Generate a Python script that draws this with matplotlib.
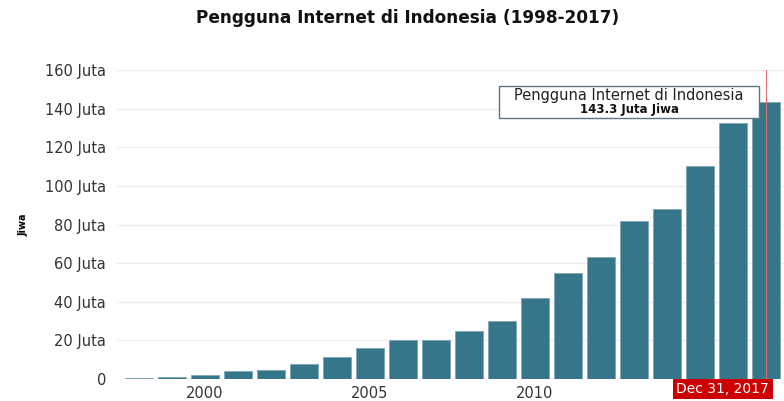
import matplotlib
matplotlib.use("Agg")
import matplotlib.pyplot as plt
from matplotlib.offsetbox import TextArea, VPacker, AnnotationBbox, DrawingArea

# Pengguna internet Indonesia (juta jiwa)
years = [1998, 1999, 2000, 2001, 2002, 2003, 2004, 2005, 2006, 2007,
         2008, 2009, 2010, 2011, 2012, 2013, 2014, 2015, 2016, 2017]
users = [0.5, 1, 2, 4.2, 4.5, 8, 11.2, 16, 20, 20,
         25, 30, 42, 55, 63, 82, 88.1, 110.2, 132.7, 143.3]
y_ticks = [0, 20, 40, 60, 80, 100, 120, 140, 160]
y_labels = ["0"] + [f"{v} Juta" for v in y_ticks[1:]]
x_ticks = [2000, 2005, 2010, 2015]

bar_color = "#35768a"
text_color = "#333333"

fig = plt.figure(figsize=(7.84, 4.01), dpi=100)
ax = fig.add_axes([117 / 784, 22 / 401, 667 / 784, 309 / 401])

ax.bar(years, users, width=0.84, color=bar_color, edgecolor="#7fa6b2",
       linewidth=0.6, zorder=3)

ax.set_xlim(1997.33, 2017.55)
ax.set_ylim(0, 160)
ax.set_yticks(y_ticks)
ax.set_yticklabels(y_labels)
ax.set_xticks(x_ticks)
ax.tick_params(axis="both", length=0, colors=text_color, labelsize=10.5)
ax.tick_params(axis="y", pad=8)
ax.tick_params(axis="x", pad=5)
ax.grid(axis="y", color="#ececec", linewidth=1, zorder=0)
for s in ax.spines.values():
    s.set_visible(False)

ax.set_ylabel("Jiwa", fontsize=7, fontweight="bold", labelpad=12)

fig.text(0.52, 0.955, "Pengguna Internet di Indonesia (1998-2017)",
         ha="center", va="center", fontsize=12.2, fontweight="bold",
         color="#111111")

# crosshair on the last bar
ax.axvline(years[-1], color="#e07070", linewidth=0.8, zorder=4)

# tooltip
box = VPacker(children=[
    DrawingArea(184, 0),
    TextArea("Pengguna Internet di Indonesia",
             textprops=dict(size=10.5, color="#222222")),
    TextArea(f"{users[-1]} Juta Jiwa",
             textprops=dict(size=8.5, weight="bold", color="#111111")),
], align="center", pad=0, sep=0)
ab = AnnotationBbox(box, (years[-1], users[-1]), xybox=(-9, 0),
                    xycoords="data", boxcoords="offset pixels",
                    box_alignment=(1, 0.5), pad=0.15,
                    bboxprops=dict(fc="white", ec="#5a7880", lw=1),
                    zorder=6)
ax.add_artist(ab)

# date label on the axis
ax.annotate("Dec 31, 2017", xy=(years[-1], 0), xytext=(-43, -10),
            textcoords="offset pixels", ha="center", va="center",
            color="white", fontsize=10, annotation_clip=False, zorder=7,
            bbox=dict(boxstyle="square,pad=0.25", fc="#cc0000", ec="none"))

fig.savefig("out.png", dpi=100)
